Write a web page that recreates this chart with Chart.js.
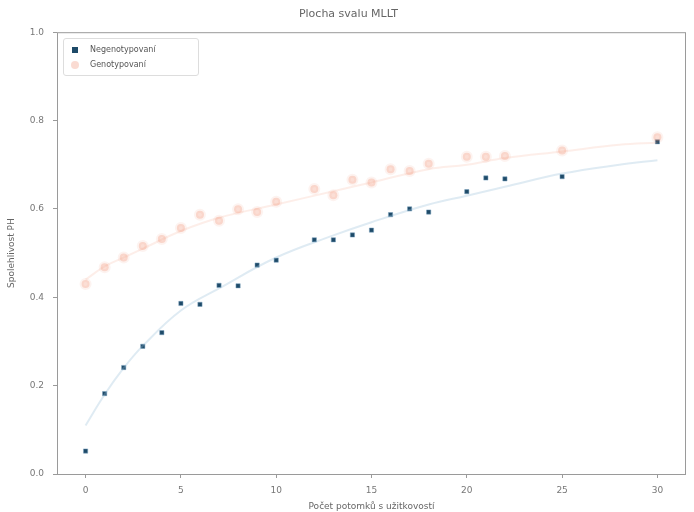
<!DOCTYPE html>
<html>
<head>
<meta charset="utf-8">
<script src="https://cdn.jsdelivr.net/npm/chart.js@4.4.1/dist/chart.umd.min.js"></script>
<style>
  html, body { margin: 0; padding: 0; background: #fff; }
  #wrap { position: relative; width: 694px; height: 512px; }
  #legend {
    position: absolute; left: 63px; top: 38px; width: 126px;
    border: 1px solid #ddd; border-radius: 3px; background: rgba(255,255,255,0.85);
    font-family: 'DejaVu Sans', sans-serif; font-size: 8px; color: #555; padding: 3px 4px;
  }
  .row { display: flex; align-items: center; height: 15px; }
  .mk { width: 6px; height: 6px; margin: 0 12px 0 4px; }
</style>
</head>
<body>
<div id="wrap">
  <canvas id="c" width="694" height="512"></canvas>
  <div id="legend">
    <div class="row"><span class="mk" style="background:#1e4a68"></span>Negenotypovaní</div>
    <div class="row"><span class="mk" style="background:rgba(240,135,105,0.3);width:8px;height:8px;border-radius:50%;margin-left:3px;margin-right:11px"></span>Genotypovaní</div>
  </div>
</div>
<script>
// počet potomků
const negX = [0, 1, 2, 3, 4, 5, 6, 7, 8, 9, 10, 12, 13, 14, 15, 16, 17, 18, 20, 21, 22, 25, 30];
const negY = [0.052, 0.182, 0.241, 0.289, 0.32, 0.386, 0.384, 0.427, 0.426, 0.473, 0.484, 0.53, 0.53, 0.541, 0.552, 0.587, 0.6, 0.593, 0.639, 0.67, 0.668, 0.673, 0.752];
const genX = [0, 1, 2, 3, 4, 5, 6, 7, 8, 9, 10, 12, 13, 14, 15, 16, 17, 18, 20, 21, 22, 25, 30];
const genY = [0.43, 0.468, 0.49, 0.516, 0.532, 0.557, 0.587, 0.573, 0.599, 0.593, 0.616, 0.645, 0.631, 0.666, 0.66, 0.69, 0.686, 0.702, 0.718, 0.718, 0.72, 0.732, 0.762];
// proložené křivky
const fitX = [0, 1, 2, 3, 5, 7, 10, 13, 15, 18, 20, 22, 25, 28, 30];
const negFit = [0.11, 0.18, 0.24, 0.29, 0.37, 0.42, 0.49, 0.54, 0.57, 0.61, 0.63, 0.65, 0.68, 0.70, 0.71];
const genFit = [0.44, 0.47, 0.49, 0.51, 0.55, 0.58, 0.61, 0.64, 0.66, 0.69, 0.70, 0.715, 0.73, 0.745, 0.75];
const xTicks = [0, 5, 10, 15, 20, 25, 30];
const yTicks = [0.0, 0.2, 0.4, 0.6, 0.8, 1.0];

const pts = (xs, ys) => xs.map((x, i) => ({ x: x, y: ys[i] }));
const font = { family: "'DejaVu Sans', sans-serif", size: 9 };

// rámeček kolem grafu (jako v matplotlibu)
const frame = {
    id: 'frame',
    afterDraw(chart) {
        const a = chart.chartArea, ctx = chart.ctx;
        ctx.save();
        ctx.strokeStyle = '#9a9a9a';
        ctx.lineWidth = 1;
        ctx.strokeRect(a.left + 0.5, a.top + 0.5, a.right - a.left - 1, a.bottom - a.top);
        ctx.restore();
    }
};

new Chart(document.getElementById('c'), {
    type: 'scatter',
    data: {
        datasets: [
            {
                type: 'line', label: 'fit neg', data: pts(fitX, negFit),
                borderColor: 'rgba(150,190,215,0.3)', borderWidth: 2, pointRadius: 0,
                tension: 0.4, fill: false
            },
            {
                type: 'line', label: 'fit gen', data: pts(fitX, genFit),
                borderColor: 'rgba(245,160,135,0.18)', borderWidth: 2, pointRadius: 0,
                tension: 0.4, fill: false
            },
            {
                label: 'Genotypovaní', data: pts(genX, genY),
                backgroundColor: 'rgba(240,135,105,0.28)', borderColor: 'rgba(240,135,105,0.1)',
                borderWidth: 4, pointRadius: 4
            },
            {
                label: 'Negenotypovaní', data: pts(negX, negY),
                backgroundColor: '#1e4a68', borderColor: 'rgba(120,160,190,0.5)',
                borderWidth: 1, pointStyle: 'rect', pointRadius: 3
            }
        ]
    },
    options: {
        responsive: false,
        animation: false,
        layout: { padding: { left: 6, right: 3, top: 0, bottom: 0 } },
        plugins: {
            legend: { display: false },
            tooltip: { enabled: false },
            title: {
                display: true, text: 'Plocha svalu MLLT', color: '#666',
                font: { family: "'DejaVu Sans', sans-serif", size: 11, weight: 'normal' },
                padding: { top: 8, bottom: 11 }
            }
        },
        scales: {
            x: {
                type: 'linear', min: -1.5, max: 31.5,
                afterBuildTicks: (s) => { s.ticks = xTicks.map(v => ({ value: v })); },
                afterFit: (s) => { s.height = 38; },
                grid: { display: true, drawOnChartArea: false, tickLength: 4, color: '#9a9a9a' },
                border: { display: false },
                ticks: { font: font, color: '#777', padding: 7 },
                title: { display: true, text: 'Počet potomků s užitkovostí', color: '#666', font: font, padding: { top: 0, bottom: 0 } }
            },
            y: {
                min: 0, max: 1.0,
                afterBuildTicks: (s) => { s.ticks = yTicks.map(v => ({ value: v })); },
                afterFit: (s) => { s.width = 51; },
                grid: { display: true, drawOnChartArea: false, tickLength: 4, color: '#9a9a9a' },
                border: { display: false },
                ticks: { font: font, color: '#777', padding: 9, callback: (v) => v.toFixed(1) },
                title: { display: true, text: 'Spolehlivost PH', color: '#666', font: font, padding: { top: 0, bottom: 0 } }
            }
        }
    },
    plugins: [frame]
});
</script>
</body>
</html>
